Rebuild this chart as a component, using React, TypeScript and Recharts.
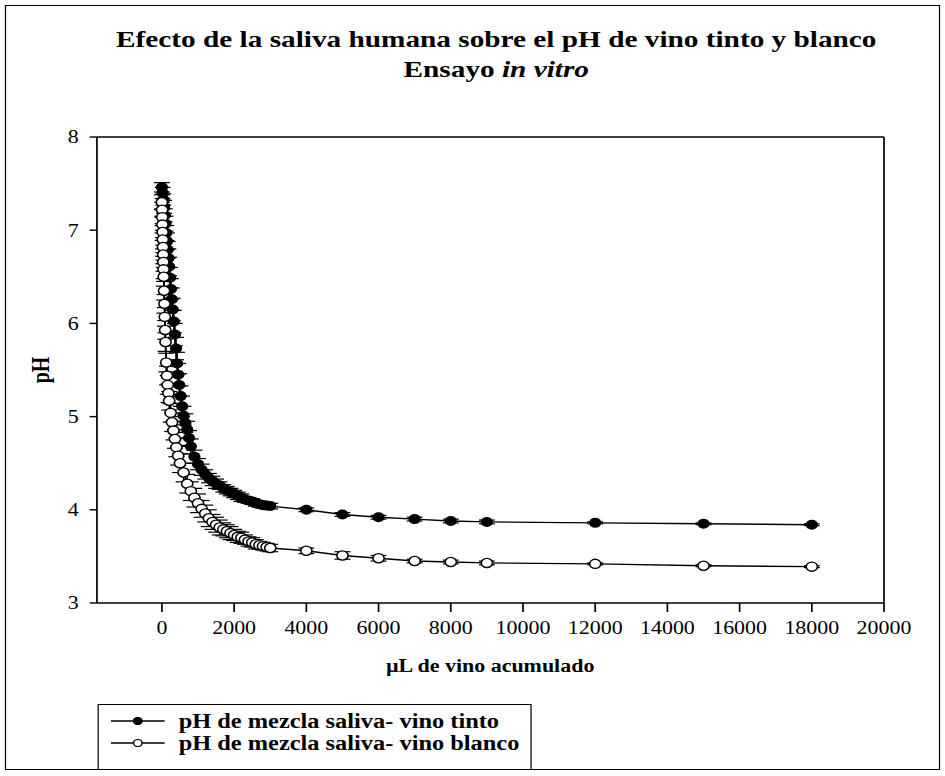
import React from 'react'
import { ScatterChart, Scatter, XAxis, YAxis, ErrorBar, ReferenceLine } from 'recharts'

// [µL acumulados, pH, error]
const vinoTinto: [number, number, number][] = [
  [0, 7.46, 0.05], [20, 7.4, 0.06], [40, 7.33, 0.06], [60, 7.25, 0.07], [80, 7.16, 0.07],
  [100, 7.07, 0.08], [120, 6.97, 0.08], [140, 6.88, 0.09], [160, 6.79, 0.09], [180, 6.7, 0.1],
  [200, 6.61, 0.1], [225, 6.49, 0.11], [250, 6.37, 0.11], [275, 6.26, 0.12], [300, 6.15, 0.12],
  [330, 6.02, 0.12], [360, 5.88, 0.12], [390, 5.73, 0.12], [420, 5.57, 0.12], [450, 5.45, 0.12],
  [480, 5.34, 0.12], [520, 5.22, 0.11], [560, 5.11, 0.11], [600, 5.01, 0.1], [650, 4.93, 0.1],
  [700, 4.86, 0.09], [750, 4.77, 0.08], [800, 4.68, 0.08], [900, 4.57, 0.07], [1000, 4.49, 0.06],
  [1100, 4.43, 0.06], [1200, 4.38, 0.05], [1300, 4.34, 0.05], [1400, 4.31, 0.05], [1500, 4.28, 0.05],
  [1600, 4.26, 0.04], [1700, 4.23, 0.04], [1800, 4.21, 0.04], [1900, 4.19, 0.04], [2000, 4.17, 0.04],
  [2100, 4.15, 0.04], [2200, 4.13, 0.04], [2300, 4.11, 0.03], [2400, 4.1, 0.03], [2500, 4.09, 0.03],
  [2600, 4.07, 0.03], [2700, 4.06, 0.03], [2800, 4.05, 0.03], [2900, 4.045, 0.03], [3000, 4.04, 0.03],
  [4000, 4.0, 0.02], [5000, 3.95, 0.02], [6000, 3.92, 0.02], [7000, 3.9, 0.02], [8000, 3.88, 0.02],
  [9000, 3.87, 0.02], [12000, 3.86, 0.01], [15000, 3.85, 0.01], [18000, 3.84, 0.01],
]

const vinoBlanco: [number, number, number][] = [
  [0, 7.3, 0.08], [5, 7.22, 0.08], [10, 7.14, 0.09], [15, 7.06, 0.09], [20, 6.98, 0.09],
  [25, 6.9, 0.1], [30, 6.82, 0.1], [35, 6.74, 0.1], [40, 6.66, 0.1], [45, 6.58, 0.1],
  [50, 6.5, 0.1], [60, 6.35, 0.1], [70, 6.21, 0.1], [80, 6.07, 0.1], [90, 5.93, 0.1],
  [100, 5.8, 0.1], [120, 5.58, 0.1], [140, 5.44, 0.1], [160, 5.34, 0.1], [180, 5.25, 0.1],
  [200, 5.17, 0.1], [240, 5.04, 0.1], [280, 4.94, 0.1], [320, 4.85, 0.1], [360, 4.76, 0.1],
  [400, 4.67, 0.1], [450, 4.58, 0.1], [500, 4.5, 0.1], [600, 4.4, 0.1], [700, 4.28, 0.1],
  [800, 4.2, 0.1], [900, 4.13, 0.1], [1000, 4.07, 0.1], [1100, 4.01, 0.09], [1200, 3.96, 0.09],
  [1300, 3.91, 0.09], [1400, 3.87, 0.08], [1500, 3.84, 0.08], [1600, 3.81, 0.08], [1700, 3.79, 0.07],
  [1800, 3.77, 0.07], [1900, 3.75, 0.07], [2000, 3.73, 0.06], [2100, 3.71, 0.06], [2200, 3.7, 0.06],
  [2300, 3.68, 0.05], [2400, 3.66, 0.05], [2500, 3.65, 0.05], [2600, 3.63, 0.05], [2700, 3.62, 0.04],
  [2800, 3.61, 0.04], [2900, 3.6, 0.04], [3000, 3.59, 0.04],
  [4000, 3.56, 0.03], [5000, 3.51, 0.04], [6000, 3.48, 0.03], [7000, 3.45, 0.02], [8000, 3.44, 0.02],
  [9000, 3.43, 0.02], [12000, 3.42, 0.01], [15000, 3.4, 0.01], [18000, 3.39, 0.01],
]

const xTicks = [0, 2000, 4000, 6000, 8000, 10000, 12000, 14000, 16000, 18000, 20000]
const yTicks = [3, 4, 5, 6, 7, 8]

const serif = '"Liberation Serif", "Times New Roman", serif'

// the original figure is stretched horizontally; draw narrow and widen it
const INNER_W = 775
const STRETCH = 945 / INNER_W

const toPoints = (rows: [number, number, number][]) =>
  rows.map(([x, y, err]) => ({ x, y, err }))

const FilledDot = (props: any) => <circle cx={props.cx} cy={props.cy} r={5} fill="#000" />
const OpenDot = (props: any) => (
  <circle cx={props.cx} cy={props.cy} r={4.6} fill="#fff" stroke="#000" strokeWidth={1.3} />
)

const legendItems = [
  { label: 'pH de mezcla saliva- vino tinto', fill: '#000' },
  { label: 'pH de mezcla saliva- vino blanco', fill: '#fff' },
]

export default function App() {
  return (
    <div style={{ position: 'relative', width: 945, height: 776, background: '#fff', overflow: 'hidden' }}>
      <style>{'body{margin:0}'}</style>
      <div
        style={{
          position: 'absolute', left: 0, top: 0, width: INNER_W, height: 776,
          transform: `scaleX(${STRETCH})`, transformOrigin: '0 0', fontFamily: serif, color: '#000',
        }}
      >
        <div
          style={{
            position: 'absolute', left: 4, top: 5, width: 767, height: 765,
            border: '1.5px solid #000', boxSizing: 'border-box',
          }}
        />
        <div
          style={{
            position: 'absolute', left: 0, top: 24, width: 814, textAlign: 'center',
            fontWeight: 'bold', fontSize: 24, lineHeight: '30px',
          }}
        >
          <div>Efecto de la saliva humana sobre el pH de vino tinto y blanco</div>
          <div>Ensayo <i>in vitro</i></div>
        </div>

        <div style={{ position: 'absolute', left: 0, top: 0 }}>
          <ScatterChart width={INNER_W} height={776} margin={{ top: 137, right: 50, left: 0, bottom: 0 }}>
            <XAxis
              type="number"
              dataKey="x"
              domain={[-1800, 20000]}
              ticks={xTicks}
              interval={0}
              height={173}
              tickSize={9}
              tickMargin={9}
              stroke="#000"
              strokeWidth={1.4}
              tick={{ fontSize: 18, fill: '#000', fontFamily: serif }}
              allowDataOverflow
            />
            <YAxis
              type="number"
              dataKey="y"
              domain={[3, 8]}
              ticks={yTicks}
              interval={0}
              width={79.5}
              tickSize={6}
              tickMargin={9}
              stroke="#000"
              strokeWidth={1.4}
              tick={{ fontSize: 18, fill: '#000', fontFamily: serif }}
              allowDataOverflow
            />
            <ReferenceLine y={8} stroke="#000" strokeWidth={1.4} />
            <ReferenceLine x={20000} stroke="#000" strokeWidth={1.4} />
            <Scatter
              name="pH de mezcla saliva- vino tinto"
              data={toPoints(vinoTinto)}
              line={{ stroke: '#000', strokeWidth: 1.4 }}
              lineJointType="linear"
              shape={FilledDot}
              fill="#000"
              isAnimationActive={false}
            >
              <ErrorBar dataKey="err" direction="y" width={6.5} stroke="#000" strokeWidth={1.2} />
            </Scatter>
            <Scatter
              name="pH de mezcla saliva- vino blanco"
              data={toPoints(vinoBlanco)}
              line={{ stroke: '#000', strokeWidth: 1.4 }}
              lineJointType="linear"
              shape={OpenDot}
              fill="#fff"
              isAnimationActive={false}
            >
              <ErrorBar dataKey="err" direction="y" width={6.5} stroke="#000" strokeWidth={1.2} />
            </Scatter>
          </ScatterChart>
        </div>

        <div
          style={{
            position: 'absolute', left: 0, top: 656, width: 804, textAlign: 'center',
            fontWeight: 'bold', fontSize: 18,
          }}
        >
          µL de vino acumulado
        </div>
        <div
          style={{
            position: 'absolute', left: 34, top: 370, transform: 'translate(-50%, -50%) rotate(-90deg)',
            fontWeight: 'bold', fontSize: 20,
          }}
        >
          pH
        </div>

        <div
          style={{
            position: 'absolute', left: 79.5, top: 704, width: 356, height: 66,
            border: '1.5px solid #000', boxSizing: 'border-box',
          }}
        >
          {legendItems.map((item, i) => (
            <div
              key={i}
              style={{
                position: 'absolute', left: 9, top: 4 + i * 22, height: 24,
                display: 'flex', alignItems: 'center',
              }}
            >
              <svg width={46} height={24}>
                <line x1={1} y1={12} x2={45} y2={12} stroke="#000" strokeWidth={1.4} />
                <circle cx={23} cy={12} r={3.5} fill={item.fill} stroke="#000" strokeWidth={1.2} />
              </svg>
              <span style={{ marginLeft: 11, fontWeight: 'bold', fontSize: 20, whiteSpace: 'nowrap' }}>
                {item.label}
              </span>
            </div>
          ))}
        </div>
      </div>
    </div>
  )
}
